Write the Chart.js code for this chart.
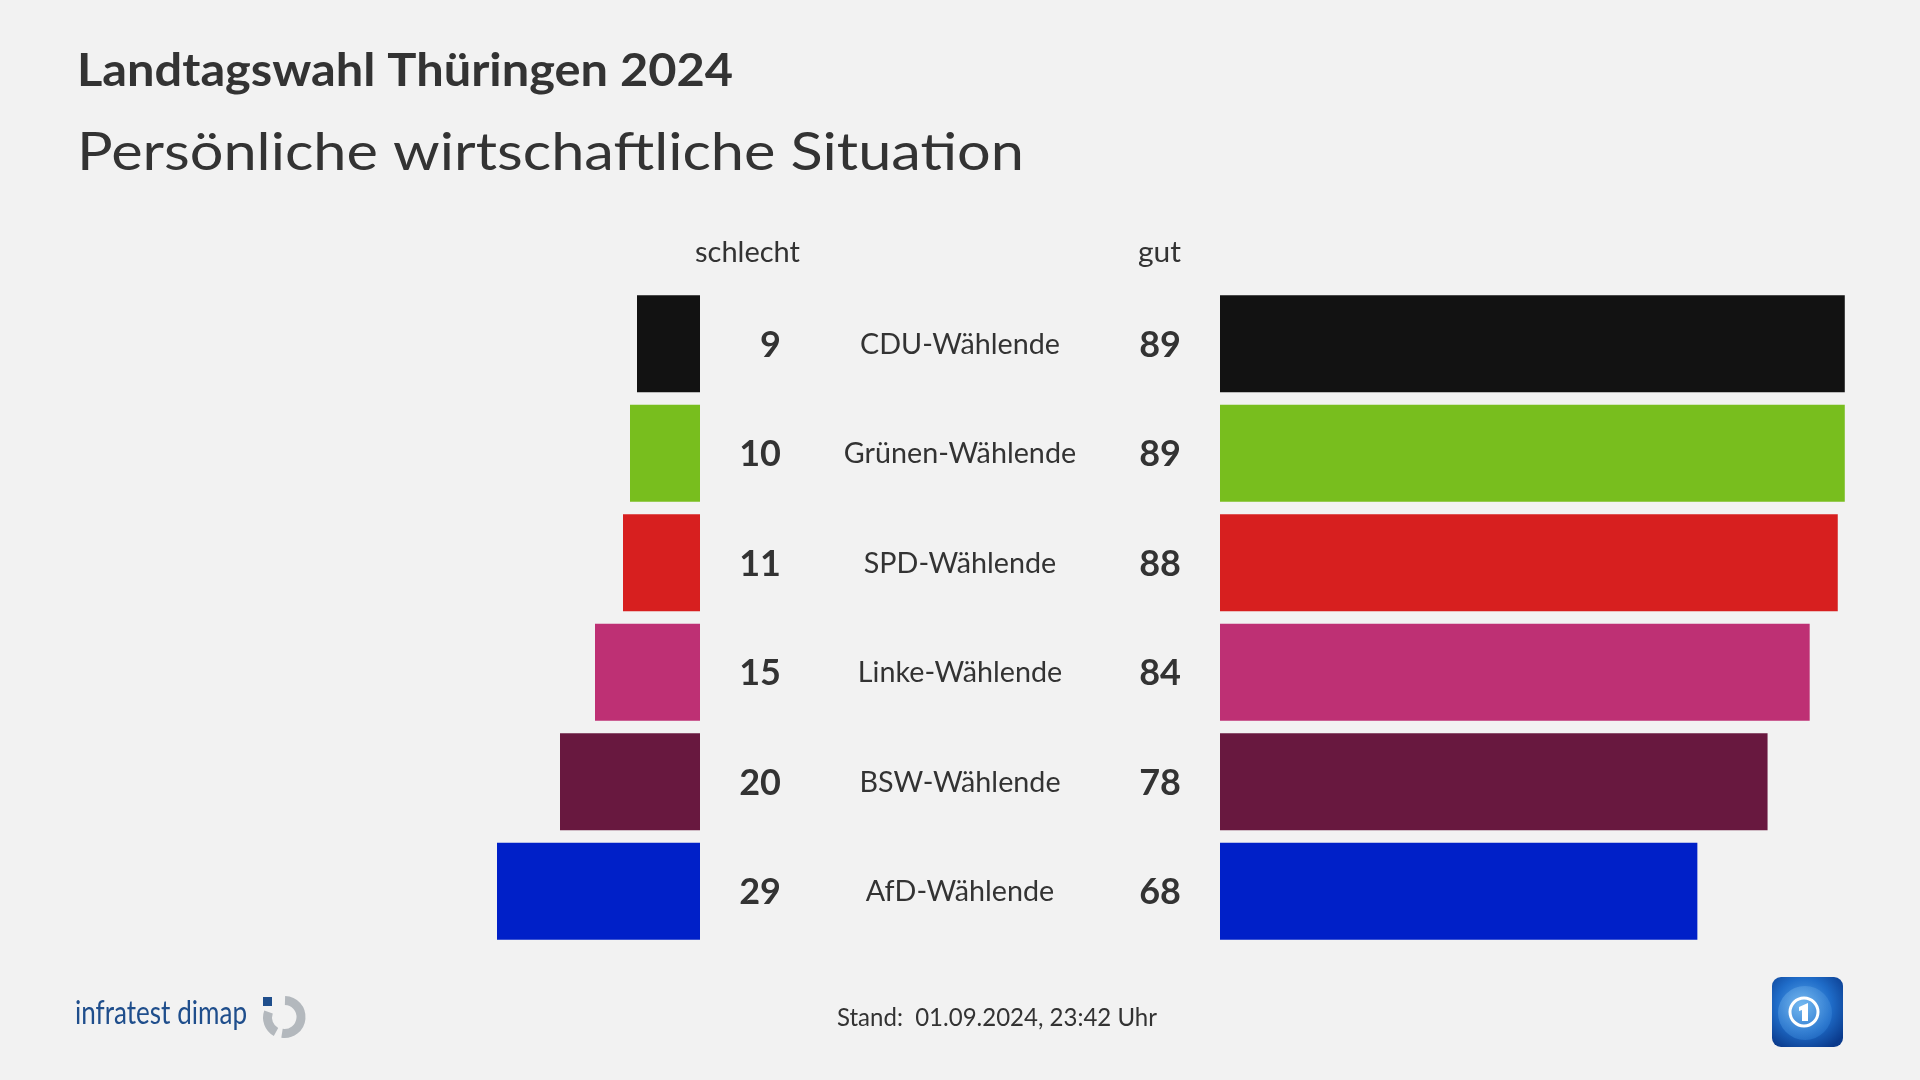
<!DOCTYPE html>
<html><head><meta charset="utf-8">
<script src="https://cdn.jsdelivr.net/npm/chart.js@4/dist/chart.umd.min.js"></script>
<style>
html,body{margin:0;padding:0;background:#f2f2f2;width:1920px;height:1080px;overflow:hidden;position:relative;}
#left{position:absolute;left:0;top:0;}
#right{position:absolute;left:1220px;top:0;}
#ard{position:absolute;left:1772px;top:977px;}
#idlogo{position:absolute;left:258px;top:992px;}
</style></head><body>
<canvas id="left" width="1220" height="1080"></canvas>
<canvas id="right" width="702" height="1080"></canvas>
<svg id="idlogo" width="54" height="52" viewBox="0 0 54 52">
  <rect x="5" y="5" width="9" height="9" fill="#1f4e8c"/>
  <path d="M 27 8.5 A 16.5 16.5 0 1 1 24 41.3" fill="none" stroke="#b3b8bd" stroke-width="9"/>
  <path d="M 18 40 A 16.5 16.5 0 0 1 10.5 20" fill="none" stroke="#b3b8bd" stroke-width="9"/>
</svg>
<svg id="ard" width="71" height="70" viewBox="0 0 71 70">
  <defs>
    <radialGradient id="g1" cx="0.45" cy="0.4" r="0.7">
      <stop offset="0" stop-color="#5aa8ec"/>
      <stop offset="0.55" stop-color="#1f6cc8"/>
      <stop offset="1" stop-color="#0a3a8c"/>
    </radialGradient>
    <radialGradient id="g2" cx="0.4" cy="0.35" r="0.7">
      <stop offset="0" stop-color="#8cc8f5"/>
      <stop offset="1" stop-color="#2a78d0"/>
    </radialGradient>
  </defs>
  <rect x="0" y="0" width="71" height="70" rx="9" fill="url(#g1)"/>
  <circle cx="33" cy="36" r="27" fill="url(#g2)" opacity="0.55"/>
  <circle cx="32" cy="35" r="14" fill="none" stroke="#ffffff" stroke-width="3"/>
  <path d="M 27 30 L 36 26 L 36 44 L 30 44 L 30 33 L 27 34 Z" fill="#ffffff"/>
</svg>
<script>
// ---- data ----
const categories = ['CDU-Wählende','Grünen-Wählende','SPD-Wählende','Linke-Wählende','BSW-Wählende','AfD-Wählende'];
const schlecht = [9, 10, 11, 15, 20, 29];
const gut = [89, 89, 88, 84, 78, 68];
const partyColors = ['#121212','#78be1e','#d71f1f','#be3074','#68183f','#0020c8'];
const columnHeaders = ['schlecht', 'gut'];
const titleText = 'Landtagswahl Thüringen 2024';
const subtitleText = 'Persönliche wirtschaftliche Situation';
const standText = 'Stand:  01.09.2024, 23:42 Uhr';
const sourceText = 'infratest dimap';

const TXT = '#333333';
const FONT = 'Lato, "Noto Sans", sans-serif';

function drawText(ctx, text, x, y, font, align, color, targetW) {
  ctx.save();
  ctx.font = font;
  ctx.fillStyle = color;
  const w = ctx.measureText(text).width;
  const sx = targetW ? targetW / w : 1;
  ctx.translate(x, y);
  ctx.scale(sx, 1);
  ctx.textAlign = align;
  ctx.textBaseline = 'alphabetic';
  ctx.fillText(text, 0, 0);
  ctx.restore();
}

const textPlugin = {
  id: 'texts',
  afterDraw(chart) {
    const ctx = chart.ctx;
    const y = chart.scales.y;
    // titles
    drawText(ctx, titleText, 77, 86, 'bold 46px ' + FONT, 'left', TXT, 656);
    drawText(ctx, subtitleText, 77, 170, '53px ' + FONT, 'left', TXT, 947);
    // headers
    drawText(ctx, columnHeaders[0], 800, 262, '28px ' + FONT, 'right', TXT, 105);
    drawText(ctx, columnHeaders[1], 1181, 262, '28px ' + FONT, 'right', TXT, 43);
    // label scale factor from first label
    ctx.save(); ctx.font = '28px ' + FONT;
    const ls = 200 / ctx.measureText(categories[0]).width;
    ctx.restore();
    categories.forEach((c, i) => {
      const cy = y.getPixelForValue(i);
      drawText(ctx, String(schlecht[i]), 781, cy + 13, 'bold 36px ' + FONT, 'right', TXT);
      drawText(ctx, String(gut[i]), 1181, cy + 13, 'bold 36px ' + FONT, 'right', TXT);
      ctx.save(); ctx.font = '28px ' + FONT;
      const w = ctx.measureText(c).width * ls;
      ctx.restore();
      drawText(ctx, c, 960, cy + 10, '28px ' + FONT, 'center', TXT, w);
    });
    // footer
    drawText(ctx, standText, 837, 1026, '25px ' + FONT, 'left', TXT, 320);
    drawText(ctx, sourceText, 75, 1024, '32px ' + FONT, 'left', '#1f4e8c', 172);
  }
};

function makeOptions(reverse, padRight) {
  return {
    responsive: false,
    animation: false,
    indexAxis: 'y',
    layout: { padding: { top: 289, bottom: 134, left: 0, right: padRight } },
    plugins: { legend: { display: false }, tooltip: { enabled: false } },
    scales: {
      x: { display: false, min: 0, max: 100, reverse: reverse },
      y: { display: false }
    }
  };
}

new Chart(document.getElementById('left'), {
  type: 'bar',
  data: { labels: categories, datasets: [{ data: schlecht, backgroundColor: partyColors, barPercentage: 0.886, categoryPercentage: 1 }] },
  options: makeOptions(true, 520),
  plugins: [textPlugin]
});
new Chart(document.getElementById('right'), {
  type: 'bar',
  data: { labels: categories, datasets: [{ data: gut, backgroundColor: partyColors, barPercentage: 0.886, categoryPercentage: 1 }] },
  options: makeOptions(false, 0)
});
</script>
</body></html>
